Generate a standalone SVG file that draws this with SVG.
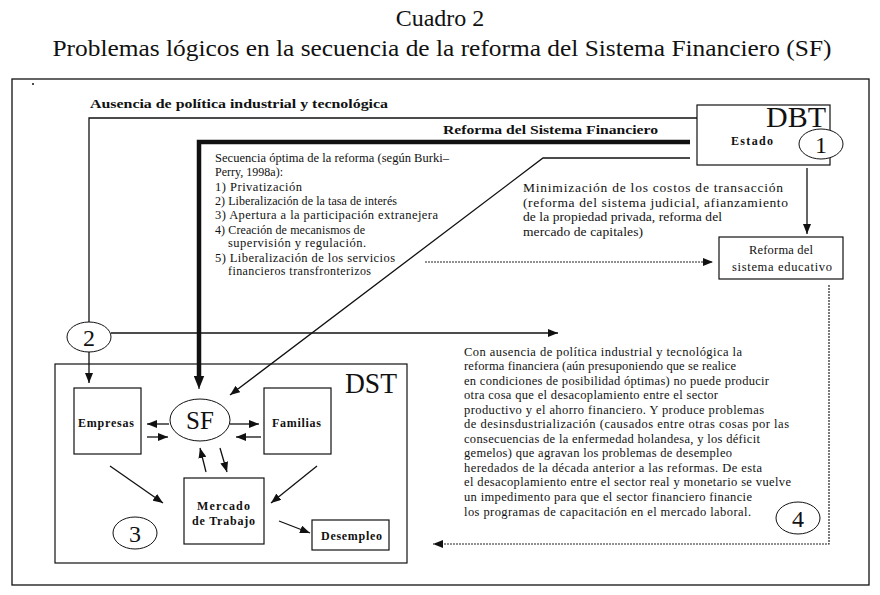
<svg xmlns="http://www.w3.org/2000/svg" width="880" height="595" viewBox="0 0 880 595">
<style>
text{font-family:"Liberation Serif","DejaVu Serif",serif;fill:#111}
.t{font-size:24px}
.b{font-weight:bold;font-size:12.5px}
.lb{font-weight:bold;font-size:12px}
.s{font-size:12.5px}
.sq{font-size:12px}
.m{font-size:13.5px}
.big{font-size:29px}
.box{fill:#fff;stroke:#111;stroke-width:1.2}
.ln{fill:none;stroke:#111;stroke-width:1.3}
.dot{fill:none;stroke:#222;stroke-width:1.2;stroke-dasharray:2 1}
.circ{fill:#fff;stroke:#111;stroke-width:1}
</style>
<defs>
<marker id="a" viewBox="0 0 10 8" refX="10" refY="4" markerWidth="10" markerHeight="8" markerUnits="userSpaceOnUse" orient="auto"><path d="M0,0L10,4L0,8z" fill="#111"/></marker>
<marker id="ab" viewBox="0 0 10 8" refX="10" refY="4" markerWidth="13" markerHeight="11" markerUnits="userSpaceOnUse" orient="auto"><path d="M0,0L10,4L0,8z" fill="#111"/></marker>
</defs>
<rect width="880" height="595" fill="#fff"/>
<text class="t" x="440" y="26" text-anchor="middle">Cuadro 2</text>
<text class="t" x="442" y="56" text-anchor="middle" textLength="779" lengthAdjust="spacingAndGlyphs">Problemas lógicos en la secuencia de la reforma del Sistema Financiero (SF)</text>
<rect x="12" y="79" width="857" height="506" fill="none" stroke="#111" stroke-width="1.3"/>
<circle cx="33" cy="84" r="1" fill="#111"/>

<g id="dst">
<rect x="55" y="364" width="352" height="199" fill="none" stroke="#111" stroke-width="1.2"/>
<text class="big" x="397" y="393" text-anchor="end" textLength="52" lengthAdjust="spacingAndGlyphs">DST</text>
</g>

<text class="b" x="90" y="108" textLength="298" lengthAdjust="spacingAndGlyphs">Ausencia de política industrial y tecnológica</text>
<text class="b" x="443" y="134" textLength="215" lengthAdjust="spacingAndGlyphs">Reforma del Sistema Financiero</text>

<g id="dbt">
<rect class="box" x="697" y="105" width="133" height="60"/>
<text class="big" x="826" y="127" text-anchor="end" textLength="60" lengthAdjust="spacingAndGlyphs">DBT</text>
<text class="lb" x="731" y="145" textLength="42" lengthAdjust="spacing">Estado</text>
</g>
<g id="c1"><ellipse class="circ" cx="821" cy="144" rx="22" ry="15"/><text x="821" y="153" text-anchor="middle" font-size="24">1</text></g>

<g id="secuencia">
<text class="s" x="215" y="162" textLength="234" lengthAdjust="spacing">Secuencia óptima de la reforma (según Burki–</text>
<text class="sq" x="215" y="176" textLength="68" lengthAdjust="spacing">Perry, 1998a):</text>
<text class="s" x="215" y="191" textLength="87" lengthAdjust="spacing">1) Privatización</text>
<text class="sq" x="215" y="205" textLength="182" lengthAdjust="spacing">2) Liberalización de la tasa de interés</text>
<text class="s" x="215" y="219" textLength="223" lengthAdjust="spacing">3) Apertura a la participación extranejera</text>
<text class="sq" x="215" y="234" textLength="150" lengthAdjust="spacing">4) Creación de mecanismos de</text>
<text class="s" x="228" y="247" textLength="138" lengthAdjust="spacing">supervisión y regulación.</text>
<text class="s" x="215" y="262" textLength="180" lengthAdjust="spacing">5) Liberalización de los servicios</text>
<text class="sq" x="228" y="275" textLength="143" lengthAdjust="spacing">financieros transfronterizos</text>
</g>

<g id="minimizacion">
<text class="m" x="523" y="192" textLength="260" lengthAdjust="spacing">Minimización de los costos de transacción</text>
<text class="m" x="523" y="207" textLength="265" lengthAdjust="spacing">(reforma del sistema judicial, afianzamiento</text>
<text class="m" x="523" y="221" textLength="199" lengthAdjust="spacing">de la propiedad privada, reforma del</text>
<text class="m" x="523" y="236" textLength="120" lengthAdjust="spacing">mercado de capitales)</text>
</g>

<g id="educativo">
<rect class="box" x="719" y="237" width="124" height="42"/>
<text class="s" x="749" y="254" textLength="64" lengthAdjust="spacing">Reforma del</text>
<text class="s" x="732" y="271" textLength="100" lengthAdjust="spacing">sistema educativo</text>
</g>

<g id="c2"><ellipse class="circ" cx="89" cy="337" rx="22" ry="15"/><text x="89" y="346" text-anchor="middle" font-size="24">2</text></g>

<g id="parrafo">
<text class="s" x="464" y="356" textLength="278" lengthAdjust="spacing">Con ausencia de política industrial y tecnológica la</text>
<text class="s" x="464" y="370" textLength="272" lengthAdjust="spacing">reforma financiera (aún presuponiendo que se realice</text>
<text class="s" x="464" y="385" textLength="305" lengthAdjust="spacing">en condiciones de posibilidad óptimas) no puede producir</text>
<text class="s" x="464" y="399" textLength="254" lengthAdjust="spacing">otra cosa que el desacoplamiento entre el sector</text>
<text class="s" x="464" y="414" textLength="300" lengthAdjust="spacing">productivo y el ahorro financiero. Y produce problemas</text>
<text class="s" x="464" y="428" textLength="325" lengthAdjust="spacing">de desinsdustrialización (causados entre otras cosas por las</text>
<text class="s" x="464" y="443" textLength="296" lengthAdjust="spacing">consecuencias de la enfermedad holandesa, y los déficit</text>
<text class="s" x="464" y="457" textLength="268" lengthAdjust="spacing">gemelos) que agravan los problemas de desempleo</text>
<text class="s" x="464" y="472" textLength="298" lengthAdjust="spacing">heredados de la década anterior a las reformas. De esta</text>
<text class="s" x="464" y="486" textLength="327" lengthAdjust="spacing">el desacoplamiento entre el sector real y monetario se vuelve</text>
<text class="s" x="464" y="501" textLength="288" lengthAdjust="spacing">un impedimento para que el sector financiero financie</text>
<text class="s" x="464" y="516" textLength="287" lengthAdjust="spacing">los programas de capacitación en el mercado laboral.</text>
</g>
<g id="c4"><ellipse class="circ" cx="798" cy="518" rx="22" ry="16"/><text x="798" y="527" text-anchor="middle" font-size="24">4</text></g>

<g id="empresas"><rect class="box" x="74" y="388" width="67" height="66"/><text class="lb" x="78" y="427" textLength="56" lengthAdjust="spacing">Empresas</text></g>
<g id="familias"><rect class="box" x="264" y="388" width="67" height="66"/><text class="lb" x="272" y="427" textLength="49" lengthAdjust="spacing">Familias</text></g>
<g id="sf"><ellipse class="circ" cx="200" cy="420" rx="30" ry="21"/><text x="200" y="429" text-anchor="middle" font-size="25">SF</text></g>
<g id="mercado"><rect class="box" x="184" y="478" width="80" height="66"/><text class="lb" x="197" y="510" textLength="53" lengthAdjust="spacing">Mercado</text><text class="lb" x="192" y="525" textLength="63" lengthAdjust="spacing">de Trabajo</text></g>
<g id="desempleo"><rect class="box" x="312" y="520" width="77" height="30"/><text class="lb" x="321" y="540" textLength="61" lengthAdjust="spacing">Desempleo</text></g>
<g id="c3"><ellipse class="circ" cx="135" cy="533" rx="22" ry="16"/><text x="135" y="542" text-anchor="middle" font-size="24">3</text></g>

<g id="connectors">
<polyline class="ln" points="697,118 89,118 89,322" stroke-width="1.6"/>
<line class="ln" x1="89" y1="352" x2="89" y2="383" stroke-width="1.6" marker-end="url(#a)"/>
<polyline fill="none" stroke="#111" stroke-width="4.5" points="690,142 199,142 199,380"/>
<line x1="199" y1="378" x2="199" y2="389" stroke="#111" stroke-width="1" marker-end="url(#ab)"/>
<polyline class="ln" points="690,158 543,158 230,395" marker-end="url(#a)"/>
<line class="dot" x1="425" y1="262" x2="713" y2="262" marker-end="url(#a)"/>
<line class="ln" x1="807" y1="168" x2="807" y2="234" stroke-width="2" marker-end="url(#a)"/>
<line class="ln" x1="111" y1="333" x2="558" y2="333" stroke-width="2" marker-end="url(#a)"/>
<polyline class="dot" points="829,285 829,544 433,544" marker-end="url(#a)"/>
<line class="ln" x1="169" y1="424" x2="147" y2="424" stroke-width="1.6" marker-end="url(#a)"/>
<line class="ln" x1="147" y1="437" x2="168" y2="437" stroke-width="1.6" marker-end="url(#a)"/>
<line class="ln" x1="230" y1="424" x2="259" y2="424" stroke-width="1.6" marker-end="url(#a)"/>
<line class="ln" x1="261" y1="437" x2="236" y2="437" stroke-width="1.6" marker-end="url(#a)"/>
<line class="ln" x1="206" y1="472" x2="200" y2="448" stroke-width="1.6" marker-end="url(#a)"/>
<line class="ln" x1="220" y1="448" x2="227" y2="472" stroke-width="1.6" marker-end="url(#a)"/>
<line class="ln" x1="110" y1="466" x2="163" y2="503" stroke-width="1.6" marker-end="url(#a)"/>
<line class="ln" x1="317" y1="466" x2="271" y2="503" stroke-width="1.6" marker-end="url(#a)"/>
<line class="ln" x1="279" y1="521" x2="310" y2="533" stroke-width="1.6" marker-end="url(#a)"/>
</g>
</svg>
